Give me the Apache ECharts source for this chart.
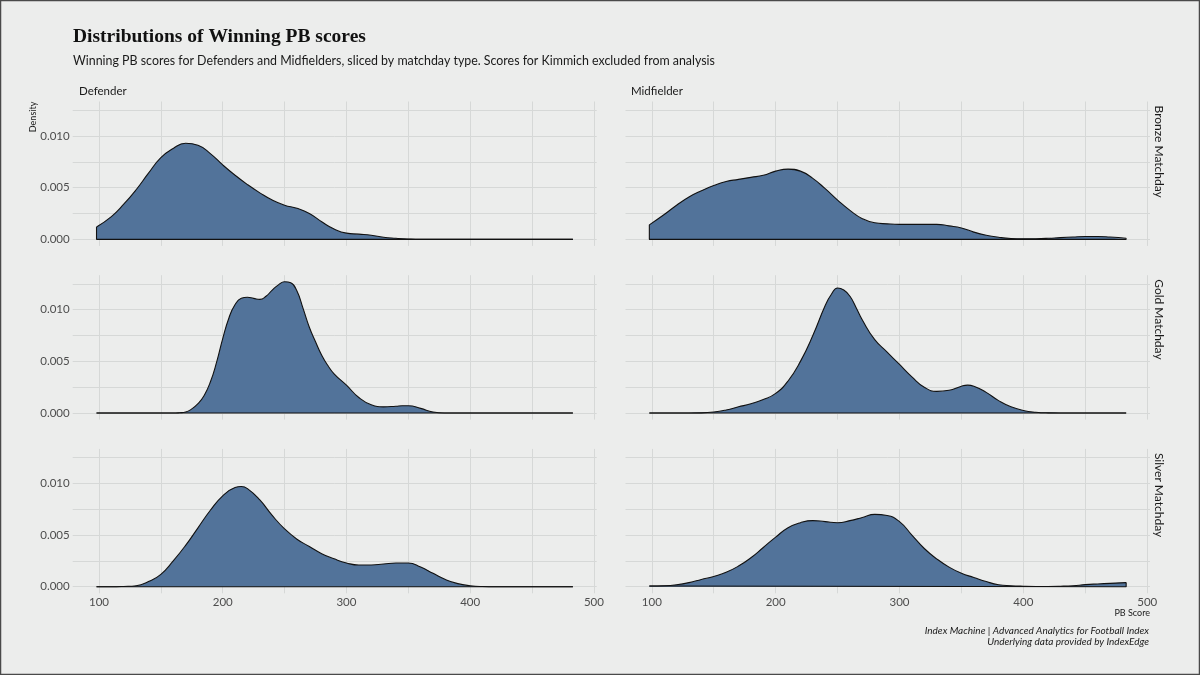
<!DOCTYPE html>
<html>
<head>
<meta charset="utf-8">
<script src="https://cdn.jsdelivr.net/npm/echarts@6/dist/echarts.min.js"></script>
<style>
html,body{margin:0;padding:0;background:#ecedec;}
#chart{width:1200px;height:675px;}
</style>
</head>
<body>
<div id="chart"></div>
<script>
// ---- Data ----
const positions = ['Defender', 'Midfielder'];
const matchdays = ['Bronze Matchday', 'Gold Matchday', 'Silver Matchday'];
const xTickLabels = [100, 200, 300, 400, 500];
const yTickLabels = [0, 0.005, 0.010];

const defBronzeX = [98,110,120,130,140,150,160,170,180,190,200,210,220,230,240,250,260,270,280,290,300,310,320,330,340,350,360,380,420,483];
const defBronzeY = [0.0012,0.0022,0.0034,0.0048,0.0064,0.0079,0.0088,0.0093,0.0091,0.0083,0.0072,0.0062,0.0053,0.0045,0.0038,0.0033,0.0030,0.0025,0.0017,0.0010,0.0006,0.0005,0.0004,0.0002,0.0001,0.00003,0,0,0,0];

const midBronzeX = [98,110,120,130,140,150,160,170,180,190,200,210,220,230,240,250,260,270,280,290,300,310,320,330,340,350,360,370,380,390,400,410,420,430,440,450,460,470,483];
const midBronzeY = [0.0014,0.0024,0.0033,0.0041,0.0047,0.0052,0.0056,0.0058,0.0060,0.0062,0.0066,0.0068,0.0066,0.0059,0.0049,0.0038,0.0028,0.0020,0.0016,0.0015,0.00145,0.00145,0.00145,0.00145,0.0013,0.0011,0.0007,0.0004,0.0002,0.00008,0.00005,0.00006,0.0001,0.00017,0.00023,0.00028,0.00028,0.00022,0.0001];

const defGoldX = [98,130,160,165,170,175,180,185,190,195,200,205,210,215,220,225,230,235,240,245,250,255,260,265,270,275,280,285,290,300,310,320,330,340,345,350,360,370,380,400,440,483];
const defGoldY = [0,0,0,0.00003,0.0001,0.0004,0.0009,0.0017,0.0030,0.0049,0.0072,0.0092,0.0105,0.0111,0.0112,0.0111,0.0110,0.0113,0.0119,0.0124,0.0127,0.0126,0.0118,0.0101,0.0083,0.0069,0.0056,0.0046,0.0038,0.0027,0.0015,0.0008,0.0006,0.00066,0.0007,0.0007,0.00045,0.0001,0.00001,0,0,0];

const midGoldX = [98,120,140,150,160,170,180,190,200,210,220,230,240,245,250,255,260,265,270,280,290,300,310,320,330,340,350,355,360,370,380,390,400,410,420,440,483];
const midGoldY = [0,0,0.00002,0.0001,0.0003,0.0006,0.0009,0.0013,0.0019,0.0031,0.0050,0.0075,0.0104,0.0115,0.0121,0.0119,0.0113,0.0102,0.0090,0.0071,0.0059,0.0047,0.0035,0.0025,0.0021,0.0022,0.0026,0.0027,0.0026,0.0020,0.0012,0.0006,0.00025,0.00008,0.00002,0,0];

const defSilverX = [98,110,120,130,140,150,160,170,180,190,200,210,215,220,230,240,250,260,270,280,290,300,310,320,330,340,350,360,370,380,390,400,410,420,450,483];
const defSilverY = [0,0,0.00003,0.0001,0.0005,0.0012,0.0025,0.0040,0.0057,0.0074,0.0088,0.0096,0.0097,0.0095,0.0084,0.0069,0.0056,0.0046,0.0039,0.0032,0.0027,0.0023,0.0021,0.0021,0.0022,0.0023,0.0023,0.0019,0.0013,0.0007,0.0003,0.0001,0.00002,0,0,0];

const midSilverX = [98,110,120,130,140,150,160,170,180,190,200,210,220,230,240,250,260,270,280,290,300,310,320,330,340,350,360,370,380,390,400,410,420,430,440,450,460,470,483];
const midSilverY = [0.00007,0.0001,0.0002,0.0004,0.0007,0.0010,0.0014,0.0020,0.0028,0.0038,0.0048,0.0057,0.0062,0.0064,0.0063,0.0062,0.0064,0.0067,0.0070,0.0069,0.0063,0.0050,0.0037,0.0027,0.0019,0.0013,0.0009,0.0005,0.0002,0.0001,0.00005,0.00003,0.00003,0.00005,0.0001,0.0002,0.00027,0.00033,0.0004];

// panels in order: row (matchday) x column (position)
const panelX = [defBronzeX, midBronzeX, defGoldX, midGoldX, defSilverX, midSilverX];
const panelY = [defBronzeY, midBronzeY, defGoldY, midGoldY, defSilverY, midSilverY];

// ---- Styling / layout ----
const FILL = '#52739a';
const GRIDLINE = '#d6d8d7';
const AXISTEXT = '#4d4d4d';
const colLeft = [72.7, 625.5];
const colWidth = [524, 524.5];
const rowTop = [101.5, 275.2, 448.9];
const rowHeight = 144.4;
const X_MIN = 78.75, X_MAX = 502.25;
const Y_MIN = -0.000635, Y_MAX = 0.01334;

const grids = [], xAxes = [], yAxes = [], series = [];
for (let r = 0; r < 3; r++) {
  for (let c = 0; c < 2; c++) {
    const i = r * 2 + c;
    grids.push({left: colLeft[c], top: rowTop[r], width: colWidth[c], height: rowHeight});
    xAxes.push({
      type: 'value', gridIndex: i, min: X_MIN, max: X_MAX,
      axisLine: {show: false},
      axisTick: {show: false, customValues: [100,150,200,250,300,350,400,450,500]},
      splitLine: {show: true, lineStyle: {color: GRIDLINE, width: 1}},
      axisLabel: {show: r === 2, customValues: xTickLabels, color: AXISTEXT, fontSize: 11.5,
                  fontFamily: 'Lato', margin: 3}
    });
    yAxes.push({
      type: 'value', gridIndex: i, min: Y_MIN, max: Y_MAX,
      axisLine: {show: false},
      axisTick: {show: false, customValues: [0,0.0025,0.005,0.0075,0.01,0.0125]},
      splitLine: {show: true, lineStyle: {color: GRIDLINE, width: 1}},
      axisLabel: {show: c === 0, customValues: yTickLabels, color: AXISTEXT, fontSize: 11.5,
                  fontFamily: 'Lato', margin: 3, formatter: v => v.toFixed(3)}
    });
    const xs = panelX[i], ys = panelY[i];
    const n = xs.length;
    series.push({
      type: 'line', xAxisIndex: i, yAxisIndex: i,
      data: xs.map((x, k) => [x, ys[k]]),
      smooth: 0.5, symbol: 'none', silent: true,
      lineStyle: {color: '#111', width: 1.1},
      areaStyle: {color: FILL, opacity: 1},
      z: 2
    });
    series.push({
      type: 'line', xAxisIndex: i, yAxisIndex: i,
      data: [[xs[0], ys[0]], [xs[0], 0], [xs[n-1], 0], [xs[n-1], ys[n-1]]],
      smooth: false, symbol: 'none', silent: true,
      lineStyle: {color: '#111', width: 1.1},
      z: 3
    });
  }
}

const graphics = [
  {type: 'text', x: 73, y: 36.5, style: {text: 'Distributions of Winning PB scores',
    font: 'bold 19.5px "Liberation Serif", serif', fill: '#111', verticalAlign: 'middle'}},
  {type: 'text', x: 73, y: 61, style: {text: 'Winning PB scores for Defenders and Midfielders, sliced by matchday type. Scores for Kimmich excluded from analysis',
    font: '12.4px Lato', fill: '#1a1a1a', verticalAlign: 'middle'}},
  {type: 'text', x: 79, y: 91.5, style: {text: positions[0], font: '11.5px Lato', fill: '#1a1a1a', verticalAlign: 'middle'}},
  {type: 'text', x: 631, y: 91.5, style: {text: positions[1], font: '11.5px Lato', fill: '#1a1a1a', verticalAlign: 'middle'}},
  {type: 'text', x: 33.5, y: 101.7, rotation: Math.PI / 2, style: {text: 'Density', font: '9px Lato', fill: '#1a1a1a', align: 'right', verticalAlign: 'middle'}},
  {type: 'text', x: 1150, y: 613, style: {text: 'PB Score', font: '9px Lato', fill: '#1a1a1a', align: 'right', verticalAlign: 'middle'}},
  {type: 'text', x: 1149, y: 630.5, style: {text: 'Index Machine | Advanced Analytics for Football Index', font: 'italic 10px Lato', fill: '#1a1a1a', align: 'right', verticalAlign: 'middle'}},
  {type: 'text', x: 1149, y: 642, style: {text: 'Underlying data provided by IndexEdge', font: 'italic 10px Lato', fill: '#1a1a1a', align: 'right', verticalAlign: 'middle'}},
  {type: 'rect', shape: {x: 0.5, y: 0.5, width: 1199, height: 674}, style: {fill: 'none', stroke: '#4a4a4a', lineWidth: 1.5}, silent: true}
];
for (let r = 0; r < 3; r++) {
  graphics.push({type: 'text', x: 1159, y: rowTop[r] + 4, rotation: -Math.PI / 2,
    style: {text: matchdays[r], font: '12px Lato', fill: '#1a1a1a', align: 'left', verticalAlign: 'middle'}});
}

const chart = echarts.init(document.getElementById('chart'), null, {renderer: 'canvas', width: 1200, height: 675});
chart.setOption({
  backgroundColor: '#ecedec',
  animation: false,
  grid: grids,
  xAxis: xAxes,
  yAxis: yAxes,
  series: series,
  graphic: graphics
});
</script>
</body>
</html>
